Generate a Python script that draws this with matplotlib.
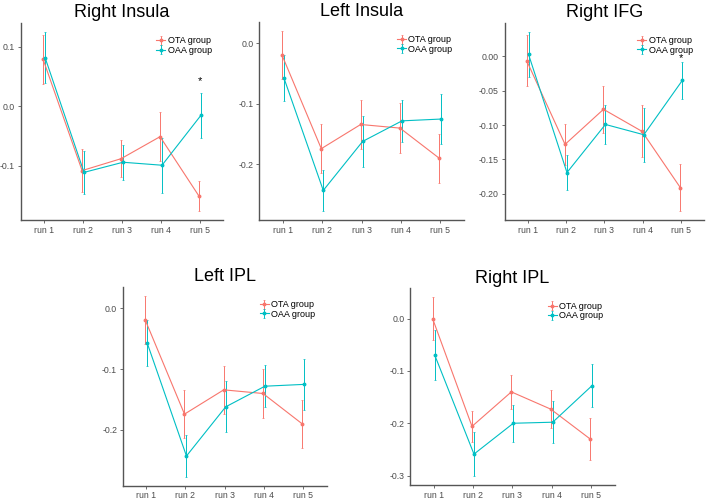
import matplotlib
matplotlib.use("Agg")
import matplotlib.pyplot as plt
import numpy as np

plt.rcParams["font.family"] = ["Liberation Sans", "DejaVu Sans"]

runs = ["run 1", "run 2", "run 3", "run 4", "run 5"]
groups = ["OTA group", "OAA group"]
colors = ["#F8766D", "#00BFC4"]

right_insula_ota = [0.079, -0.108, -0.088, -0.051, -0.151]
right_insula_ota_se = [0.041, 0.036, 0.031, 0.041, 0.025]
right_insula_oaa = [0.082, -0.111, -0.094, -0.099, -0.015]
right_insula_oaa_se = [0.043, 0.036, 0.029, 0.046, 0.038]

left_insula_ota = [-0.019, -0.174, -0.134, -0.140, -0.190]
left_insula_ota_se = [0.040, 0.040, 0.040, 0.041, 0.040]
left_insula_oaa = [-0.057, -0.243, -0.162, -0.128, -0.125]
left_insula_oaa_se = [0.038, 0.034, 0.042, 0.035, 0.042]

right_ifg_ota = [-0.006, -0.128, -0.077, -0.109, -0.191]
right_ifg_ota_se = [0.037, 0.030, 0.034, 0.038, 0.034]
right_ifg_oaa = [0.003, -0.169, -0.099, -0.114, -0.035]
right_ifg_oaa_se = [0.033, 0.026, 0.029, 0.039, 0.027]

left_ipl_ota = [-0.019, -0.174, -0.134, -0.140, -0.190]
left_ipl_ota_se = [0.040, 0.040, 0.040, 0.041, 0.040]
left_ipl_oaa = [-0.057, -0.243, -0.162, -0.128, -0.125]
left_ipl_oaa_se = [0.038, 0.034, 0.042, 0.035, 0.042]

right_ipl_ota = [0.000, -0.206, -0.140, -0.173, -0.230]
right_ipl_ota_se = [0.041, 0.030, 0.033, 0.037, 0.040]
right_ipl_oaa = [-0.069, -0.259, -0.200, -0.198, -0.128]
right_ipl_oaa_se = [0.048, 0.042, 0.035, 0.040, 0.041]

# significance stars: (run index, y)
right_insula_star = (4, 0.043)
right_ifg_star = (4, -0.003)

panels = [
    ("Right Insula", right_insula_ota, right_insula_ota_se, right_insula_oaa, right_insula_oaa_se,
     [-0.1, 0.0, 0.1], "%.1f", right_insula_star, (20.7, 23, 223.4, 220)),
    ("Left Insula", left_insula_ota, left_insula_ota_se, left_insula_oaa, left_insula_oaa_se,
     [-0.2, -0.1, 0.0], "%.1f", None, (259.3, 21.7, 464, 220)),
    ("Right IFG", right_ifg_ota, right_ifg_ota_se, right_ifg_oaa, right_ifg_oaa_se,
     [-0.20, -0.15, -0.10, -0.05, 0.00], "%.2f", right_ifg_star, (504.5, 22.7, 704.4, 220)),
    ("Left IPL", left_ipl_ota, left_ipl_ota_se, left_ipl_oaa, left_ipl_oaa_se,
     [-0.2, -0.1, 0.0], "%.1f", None, (122.7, 286.7, 326.7, 485.7)),
    ("Right IPL", right_ipl_ota, right_ipl_ota_se, right_ipl_oaa, right_ipl_oaa_se,
     [-0.3, -0.2, -0.1, 0.0], "%.1f", None, (410, 288.3, 614.7, 485)),
]

W, H = 708, 499
fig = plt.figure(figsize=(W / 100, H / 100), dpi=100)
axis_grey = "#555555"
x = np.arange(1, len(runs) + 1)
dodge = 0.025

for title, ota, ota_se, oaa, oaa_se, yticks, fmt, star, box in panels:
    x0, y0, x1, y1 = box
    ax = fig.add_axes([x0 / W, 1 - y1 / H, (x1 - x0) / W, (y1 - y0) / H])
    series = [(ota, ota_se), (oaa, oaa_se)]
    lo, hi = [], []
    for (m, se), c, lab, off in zip(series, colors, groups, [-dodge, dodge]):
        m = np.array(m)
        se = np.array(se)
        ax.errorbar(x + off, m, yerr=se, color=c, lw=0.8, elinewidth=0.7, capsize=0.8,
                     capthick=0.5, marker="o", ms=1.8, label=lab)
        lo.append((m - se).min())
        hi.append((m + se).max())
    ymin, ymax = min(lo), max(hi)
    pad = (ymax - ymin) * 0.05
    ax.set_ylim(ymin - pad, ymax + pad)
    ax.set_xlim(0.4, len(runs) + 0.6)
    if star is not None:
        ax.text(x[star[0]], star[1], "*", ha="center", va="center", fontsize=8, color="black")
    ax.set_xticks(x)
    ax.set_xticklabels(runs)
    ax.set_yticks(yticks)
    ax.set_yticklabels([fmt % v for v in yticks])
    ax.tick_params(labelsize=6.3, colors=axis_grey, labelcolor="#4D4D4D", length=2, width=0.6, pad=2)
    for s in ["top", "right"]:
        ax.spines[s].set_visible(False)
    for s in ["left", "bottom"]:
        ax.spines[s].set_color(axis_grey)
        ax.spines[s].set_linewidth(1.0)
    ax.set_title(title, fontsize=13, pad=4)
    wpx = x1 - x0
    hpx = y1 - y0
    ax.legend(loc="upper left", bbox_to_anchor=(1 - 67 / wpx, 1 - 13.5 / hpx), frameon=False,
              fontsize=6.5, handlelength=1.0, handletextpad=0.25, borderpad=0, borderaxespad=0,
              labelspacing=0.05)

fig.savefig("out.png", dpi=100)
